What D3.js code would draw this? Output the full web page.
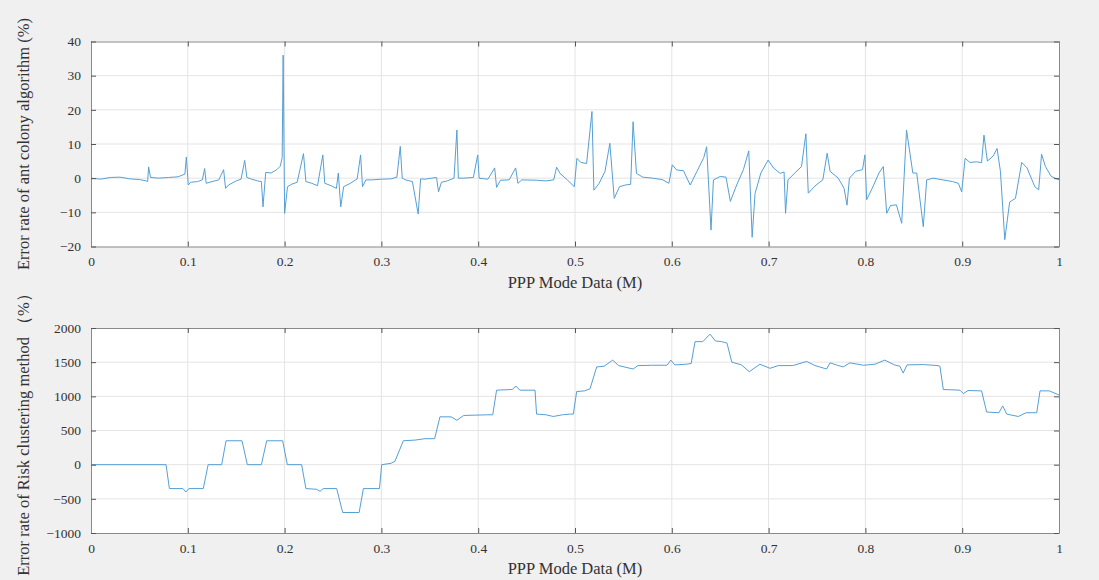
<!DOCTYPE html>
<html>
<head>
<meta charset="utf-8">
<script src="https://cdn.jsdelivr.net/npm/d3@7"></script>
<style>
  html, body { margin: 0; padding: 0; background: #f0f0f0; }
  svg { display: block; }
  text { font-family: "Liberation Serif", "Times New Roman", serif; fill: #333; }
</style>
</head>
<body>
<svg id="fig" width="1099" height="580"></svg>
<script>
// PPP mode data positions (M) and error rate of the ant colony algorithm (%)
const antX = [0, 0.01, 0.02, 0.03, 0.04, 0.05, 0.057, 0.0585, 0.0595, 0.0615, 0.07, 0.08, 0.09, 0.097,
  0.0985, 0.1005, 0.103, 0.11, 0.115, 0.1174, 0.119, 0.125, 0.132, 0.137, 0.139, 0.142, 0.15, 0.155,
  0.1588, 0.161, 0.166, 0.172, 0.176, 0.1777, 0.1805, 0.186, 0.192, 0.1955, 0.1975, 0.1985, 0.2, 0.203,
  0.207, 0.213, 0.2195, 0.222, 0.228, 0.234, 0.2395, 0.2415, 0.248, 0.2535, 0.2555, 0.258, 0.261, 0.268,
  0.275, 0.2785, 0.2805, 0.284, 0.29, 0.3, 0.31, 0.316, 0.3195, 0.3215, 0.325, 0.332, 0.338, 0.3405,
  0.345, 0.352, 0.357, 0.359, 0.362, 0.368, 0.375, 0.378, 0.3795, 0.385, 0.395, 0.3995, 0.401, 0.41,
  0.417, 0.419, 0.423, 0.432, 0.4387, 0.441, 0.445, 0.46, 0.47, 0.478, 0.481, 0.4845, 0.492, 0.4993,
  0.502, 0.506, 0.512, 0.5175, 0.5195, 0.525, 0.531, 0.536, 0.5405, 0.546, 0.552, 0.5575, 0.56, 0.5635,
  0.57, 0.58, 0.59, 0.597, 0.6005, 0.605, 0.612, 0.619, 0.626, 0.633, 0.636, 0.6405, 0.643, 0.65, 0.656,
  0.6605, 0.667, 0.674, 0.6795, 0.683, 0.686, 0.692, 0.6995, 0.705, 0.712, 0.716, 0.7175, 0.72, 0.727,
  0.734, 0.7385, 0.741, 0.749, 0.756, 0.7605, 0.7635, 0.772, 0.778, 0.781, 0.7835, 0.79, 0.797, 0.7995,
  0.8013, 0.807, 0.814, 0.8185, 0.822, 0.826, 0.832, 0.8375, 0.8425, 0.846, 0.849, 0.853, 0.8598,
  0.8633, 0.87, 0.88, 0.89, 0.896, 0.8995, 0.903, 0.908, 0.915, 0.92, 0.9225, 0.926, 0.932, 0.936,
  0.9395, 0.944, 0.949, 0.955, 0.9615, 0.967, 0.975, 0.979, 0.982, 0.986, 0.992, 1.0];
const antErr = [0, -0.3, 0.2, 0.3, -0.2, -0.4, -0.8, -1.0, 3.3, 0.2, 0, 0.2, 0.4, 1.2,
  6.2, -2, -1.2, -1, -0.5, 2.8, -1.5, -1, -0.5, 2.5, -3, -2, -0.8, -0.3,
  5.2, 0.2, -0.3, -0.8, -1, -8.4, 1.7, 1.5, 2.5, 3.5, 6, 36, -10.3, -2.5,
  -1.8, -1.2, 7.2, -1, -1.5, -2.2, 6.8, -1.5, -2.2, -3, 1.5, -8.4, -2.5, -1.5,
  -0.2, 6.8, -2.5, -0.5, -0.5, -0.3, -0.2, 0.3, 9.3, 0, -0.5, -1, -10.5, -0.2,
  -0.3, 0, 0.2, -4, -1.2, -0.8, 0, 14.1, 0, 0, 0.2, 6.8, 0, -0.3,
  3, -2.7, -0.6, -0.5, 3, -1.5, -0.5, -0.6, -0.8, -0.5, 3.2, 1.4, -0.5, -2.5,
  5.8, 4.6, 4.3, 19.5, -3.5, -1.5, 2, 10.2, -5.9, -2.5, -2, -1.8, 16.5, 1.4,
  0.3, 0, -0.4, -1.5, 3.9, 2.4, 2.2, -2, 2, 6, 9.2, -15.2, -0.5, 0.5, 0.3,
  -6.8, -2, 2.5, 8, -17.3, -4.5, 1.5, 5.3, 3, 1.4, 1.8, -10.3, -0.5, 1.5,
  3.4, 13, -4.4, -2, -0.5, 7.3, 2, 0, -3, -7.9, 0, 2, 2.5, 6.8,
  -6.3, -3, 1.5, 3.4, -10.3, -8, -7.8, -13.2, 14.1, 7.3, 1.5, 1.5, -14.2,
  -0.5, 0, -0.5, -1, -1.5, -4, 5.8, 4.6, 4.8, 4.5, 12.6, 5, 6.5, 8.7,
  2, -18, -7, -5.9, 4.6, 3, -2.5, -3.4, 7, 3.4, 0.5, -0.5];

// PPP mode data positions (M) and error rate of the risk clustering method (%)
const riskX = [0, 0.0775, 0.081, 0.095, 0.098, 0.101, 0.116, 0.121, 0.135, 0.1395, 0.156, 0.1615,
  0.176, 0.1815, 0.198, 0.2028, 0.2176, 0.222, 0.233, 0.2366, 0.24, 0.2538, 0.26, 0.277, 0.2814,
  0.298, 0.3003, 0.31, 0.314, 0.3227, 0.335, 0.345, 0.355, 0.3605, 0.372, 0.378, 0.385, 0.41, 0.415,
  0.419, 0.435, 0.439, 0.443, 0.4587, 0.4603, 0.47, 0.4776, 0.487, 0.495, 0.4983, 0.5017, 0.51,
  0.5155, 0.5224, 0.53, 0.539, 0.545, 0.56, 0.565, 0.58, 0.595, 0.599, 0.603, 0.615, 0.62, 0.624,
  0.632, 0.6395, 0.645, 0.6515, 0.657, 0.662, 0.672, 0.68, 0.691, 0.7015, 0.71, 0.725, 0.7393,
  0.748, 0.76, 0.7634, 0.77, 0.777, 0.784, 0.798, 0.81, 0.82, 0.83, 0.8357, 0.839, 0.843, 0.86,
  0.875, 0.877, 0.8805, 0.8977, 0.9012, 0.906, 0.92, 0.9253, 0.938, 0.9418, 0.946, 0.958, 0.966,
  0.977, 0.9804, 0.99, 1.0];
const riskErr = [0, 0, -350, -350, -400, -350, -350, 0, 0, 350, 350, 0,
  0, 350, 350, 0, 0, -350, -360, -390, -350, -350, -700, -700, -350,
  -350, 0, 20, 50, 350, 360, 380, 380, 700, 700, 650, 720, 730, 730,
  1090, 1100, 1150, 1090, 1090, 740, 730, 705, 730, 740, 740, 1070, 1080,
  1110, 1430, 1440, 1530, 1450, 1400, 1450, 1455, 1455, 1530, 1460, 1470, 1480, 1800,
  1800, 1910, 1810, 1800, 1780, 1500, 1460, 1360, 1470, 1410, 1450, 1450, 1510,
  1450, 1400, 1490, 1460, 1430, 1490, 1455, 1470, 1530, 1460, 1440, 1340, 1460, 1465,
  1450, 1440, 1100, 1090, 1040, 1085, 1080, 770, 760, 860, 740, 705, 760,
  760, 1080, 1080, 1020];

const xTicks = [0, 0.1, 0.2, 0.3, 0.4, 0.5, 0.6, 0.7, 0.8, 0.9, 1];
const antTicks = [-20, -10, 0, 10, 20, 30, 40];
const riskTicks = [-1000, -500, 0, 500, 1000, 1500, 2000];
const xLabel = "PPP Mode Data (M)";
const antLabel = "Error rate of ant colony algorithm (%)";
const riskLabel = "Error rate of Risk clustering method （%）";

const svg = d3.select("#fig");
svg.append("rect").attr("width", 1099).attr("height", 580).attr("fill", "#f0f0f0");

function panel(opts) {
  const { top, bottom, left, right, xs, ys, yDomain, yTicks, yLabel, id } = opts;
  const x = d3.scaleLinear().domain([0, 1]).range([left, right]);
  const y = d3.scaleLinear().domain(yDomain).range([bottom, top]);
  const g = svg.append("g");

  g.append("rect").attr("x", left).attr("y", top)
    .attr("width", right - left).attr("height", bottom - top).attr("fill", "#fff");

  // grid
  g.append("g").selectAll("line").data(xTicks.slice(1, -1)).join("line")
    .attr("x1", d => x(d)).attr("x2", d => x(d)).attr("y1", top).attr("y2", bottom)
    .attr("stroke", "#e4e4e4").attr("stroke-width", 1);
  g.append("g").selectAll("line").data(yTicks.slice(1, -1)).join("line")
    .attr("y1", d => y(d)).attr("y2", d => y(d)).attr("x1", left).attr("x2", right)
    .attr("stroke", "#e4e4e4").attr("stroke-width", 1);

  // data line
  g.append("clipPath").attr("id", id).append("rect")
    .attr("x", left).attr("y", top).attr("width", right - left).attr("height", bottom - top);
  const pts = xs.map((v, i) => [v, ys[i]]);
  g.append("path").datum(pts)
    .attr("clip-path", `url(#${id})`)
    .attr("fill", "none").attr("stroke", "#559fd5").attr("stroke-width", 1)
    .attr("stroke-linejoin", "round")
    .attr("d", d3.line().x(d => x(d[0])).y(d => y(d[1])));

  // axes with inward ticks on all four sides
  const tl = 5;
  const axB = d3.axisBottom(x).tickValues(xTicks).tickFormat(d3.format("~g")).tickSizeInner(-tl).tickSizeOuter(0).tickPadding(10);
  const axT = d3.axisTop(x).tickValues(xTicks).tickFormat("").tickSizeInner(-tl).tickSizeOuter(0);
  const axL = d3.axisLeft(y).tickValues(yTicks).tickFormat(d3.format("d")).tickSizeInner(-tl).tickSizeOuter(0).tickPadding(10);
  const axR = d3.axisRight(y).tickValues(yTicks).tickFormat("").tickSizeInner(-tl).tickSizeOuter(0);
  const style = sel => {
    sel.select(".domain").attr("stroke", "#8a8a8a");
    sel.selectAll(".tick line").attr("stroke", "#555");
    sel.selectAll(".tick text").attr("font-family", "Liberation Serif").attr("font-size", 13.5).attr("fill", "#333");
  };
  g.append("g").attr("transform", `translate(0,${bottom})`).call(axB).call(style);
  g.append("g").attr("transform", `translate(0,${top})`).call(axT).call(style);
  g.append("g").attr("transform", `translate(${left},0)`).call(axL).call(style);
  g.append("g").attr("transform", `translate(${right},0)`).call(axR).call(style);

  g.append("text").attr("x", (left + right) / 2).attr("y", bottom + 41)
    .attr("text-anchor", "middle").attr("font-size", 16.5).text(xLabel);
  g.append("text")
    .attr("transform", `translate(29,${(top + bottom) / 2}) rotate(-90)`)
    .attr("text-anchor", "middle").attr("font-size", 16.5).text(yLabel);
}

panel({ id: "clipAnt", top: 41.5, bottom: 246.5, left: 91, right: 1059,
  xs: antX, ys: antErr, yDomain: [-20, 40], yTicks: antTicks, yLabel: antLabel });
panel({ id: "clipRisk", top: 328, bottom: 533, left: 91, right: 1059,
  xs: riskX, ys: riskErr, yDomain: [-1000, 2000], yTicks: riskTicks, yLabel: riskLabel });
</script>
</body>
</html>
